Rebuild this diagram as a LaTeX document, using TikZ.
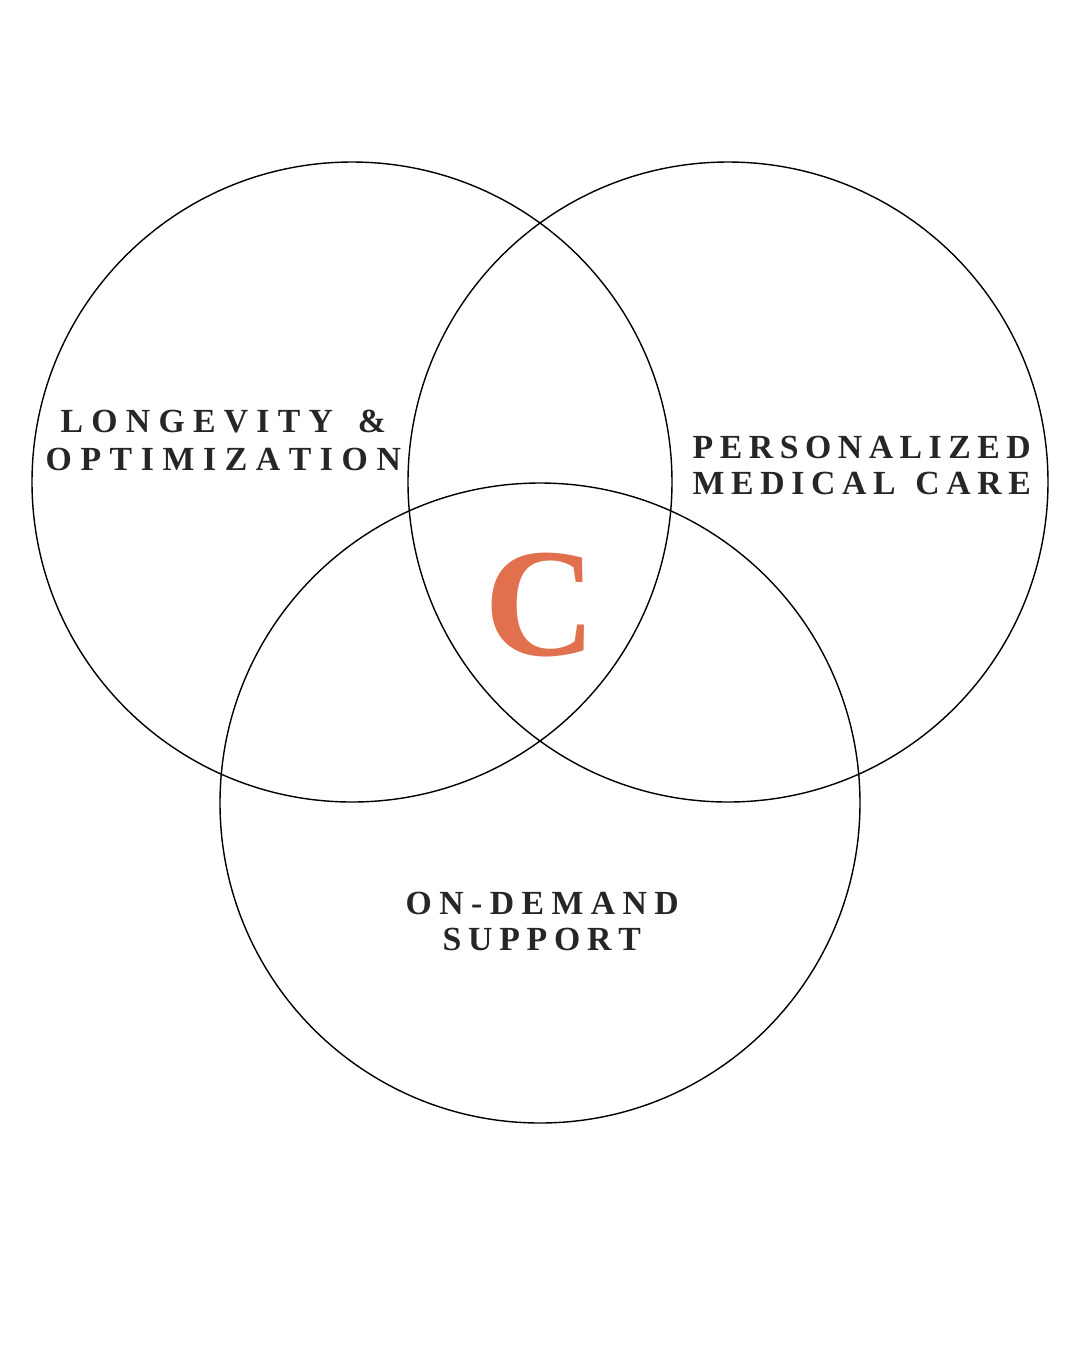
\documentclass[tikz,border=0pt]{standalone}
\usepackage{fontspec}
\setmainfont{Liberation Serif}
\usetikzlibrary{positioning}
\definecolor{inkColor}{RGB}{38,38,38}
\definecolor{logoColor}{RGB}{224,112,78}
\newcommand{\spread}[2]{\makebox[#1][s]{#2}}

\begin{document}
\begin{tikzpicture}[
    x=0.01cm, y=-0.01cm,
    ring/.style={draw=black, line width=0.4pt},
    label/.style={font=\fontsize{9.6}{12}\selectfont\bfseries, text=inkColor, inner sep=0pt, anchor=base west}
]
    \useasboundingbox (0,0) rectangle (1080,1350);
    % Circles
    \draw[ring] (352,482) circle[radius=320];
    \draw[ring] (728,482) circle[radius=320];
    \draw[ring] (540,803) circle[radius=320];

    % Labels
    \node[label] (l1) at (60,432) {\spread{3.25cm}{L O N G E V I T Y \ \ \&}};
    \node[label] (l2) at (45,470) {\spread{3.55cm}{O P T I M I Z A T I O N}};
    \node[label] (r1) at (692,458) {\spread{3.38cm}{P E R S O N A L I Z E D}};
    \node[label] (r2) at (692,494) {\spread{3.38cm}{M E D I C A L \ \ C A R E}};
    \node[label] (b1) at (405,914) {\spread{2.73cm}{O N - D E M A N D}};
    \node[label] (b2) at (442,950) {\spread{1.98cm}{S U P P O R T}};

    % Logo
    \node[font=\fontsize{44}{44}\selectfont\bfseries, text=logoColor, inner sep=0pt, anchor=base] (logo) at (540,655) {C};
\end{tikzpicture}
\end{document}
